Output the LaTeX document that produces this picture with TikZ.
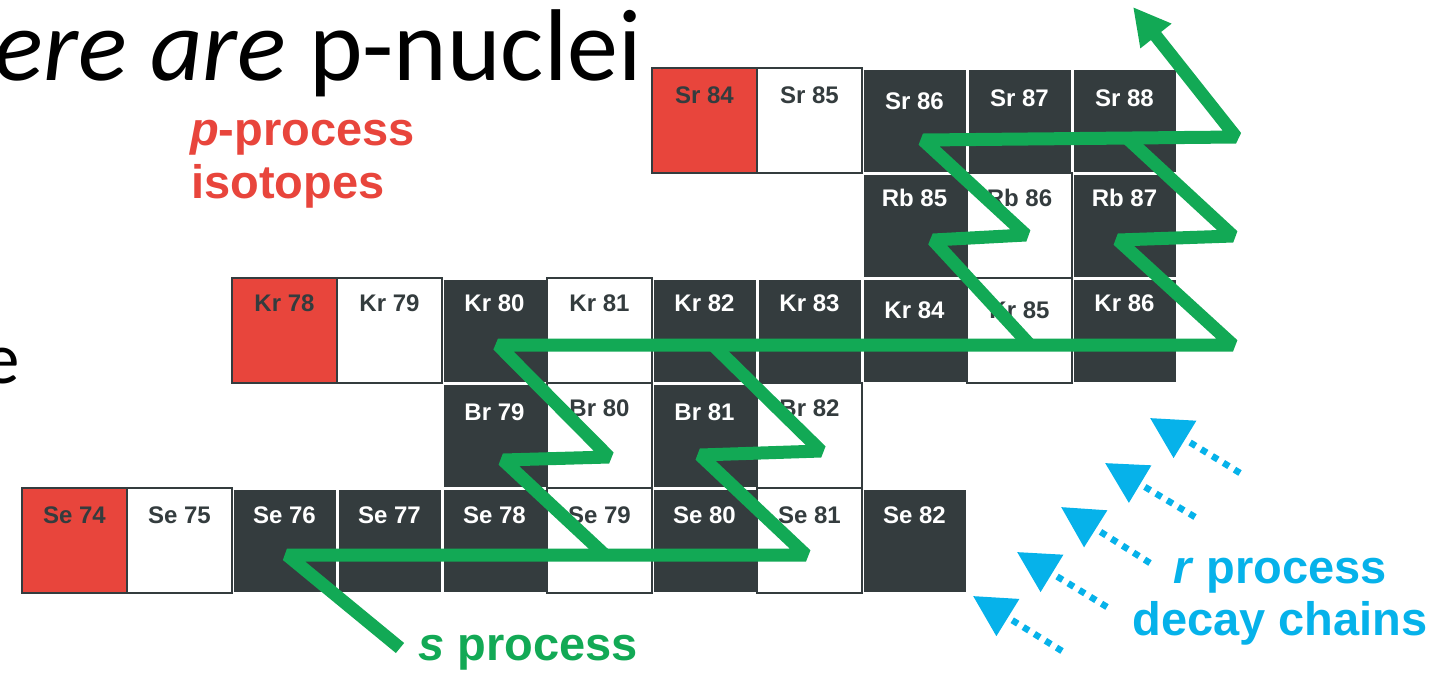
\documentclass[tikz,border=0pt]{standalone}
\usepackage{fontspec}
\setmainfont{Liberation Sans}
\newfontfamily\titlefont{Carlito}
\usetikzlibrary{arrows.meta}
\definecolor{cdark}{HTML}{343C3E}
\definecolor{cred}{HTML}{E8453C}
\definecolor{cgreen}{HTML}{12A955}
\definecolor{cblue}{HTML}{06B2EA}
\tikzset{
  darkcell/.style={fill=cdark, draw=white, line width=3pt},
  whitecell/.style={fill=white, draw=cdark, line width=2.5pt},
  redcell/.style={fill=cred, draw=cdark, line width=2.5pt},
  lbl/.style={font=\bfseries\fontsize{24}{28}\selectfont, inner sep=0pt},
  sline/.style={draw=cgreen, line width=13pt, line join=bevel},
  rarrow/.style={draw=cblue, line width=6.5pt, dash pattern=on 6.5pt off 6.5pt,
     -{Triangle[length=41pt,width=42pt]}},
  bigtext/.style={font=\bfseries\fontsize{47}{54}\selectfont, inner sep=0pt},
  titletext/.style={inner sep=0pt, font=\titlefont\fontsize{102}{102}\selectfont},
}
\begin{document}
\begin{tikzpicture}[x=1pt,y=-1pt]
\useasboundingbox (0,0) rectangle (1434,673);
\clip (0,0) rectangle (1434,673);
% title fragments
\node[titletext, anchor=base east] (title) at (642,80) {{\itshape ere are} p-nuclei};
\node[anchor=base east, inner sep=0pt, font=\titlefont\fontsize{73}{73}\selectfont] (bodye) at (20,383) {e};
% cells: name/col/row/style/text colour/label offset/label
\foreach \n/\c/\r/\s/\t/\dy/\lab in {
  se76/2/0/darkcell/white/27/Se 76, se77/3/0/darkcell/white/27/Se 77, se78/4/0/darkcell/white/27/Se 78,
  se80/6/0/darkcell/white/27/Se 80, se82/8/0/darkcell/white/27/Se 82,
  br79/4/1/darkcell/white/29/Br 79, br81/6/1/darkcell/white/29/Br 81,
  kr80/4/2/darkcell/white/25/Kr 80, kr82/6/2/darkcell/white/25/Kr 82, kr83/7/2/darkcell/white/25/Kr 83,
  kr84/8/2/darkcell/white/32/Kr 84, kr86/10/2/darkcell/white/25/Kr 86,
  rb85/8/3/darkcell/white/25/Rb 85, rb87/10/3/darkcell/white/25/Rb 87,
  sr86/8/4/darkcell/white/33/Sr 86, sr87/9/4/darkcell/white/30/Sr 87, sr88/10/4/darkcell/white/30/Sr 88,
  se74/0/0/redcell/cdark/27/Se 74, se75/1/0/whitecell/cdark/27/Se 75, se79/5/0/whitecell/cdark/27/Se 79,
  se81/7/0/whitecell/cdark/27/Se 81,
  br80/5/1/whitecell/cdark/25/Br 80, br82/7/1/whitecell/cdark/25/Br 82,
  kr78/2/2/redcell/cdark/25/Kr 78, kr79/3/2/whitecell/cdark/25/Kr 79, kr81/5/2/whitecell/cdark/25/Kr 81,
  kr85/9/2/whitecell/cdark/32/Kr 85,
  rb86/9/3/whitecell/cdark/25/Rb 86,
  sr84/6/4/redcell/cdark/27/Sr 84, sr85/7/4/whitecell/cdark/27/Sr 85}
{
  \node[\s, minimum width=105pt, minimum height=105pt, inner sep=0pt, outer sep=0pt, anchor=north west]
     (\n) at ({22+105*\c},{488-105*\r}) {};
  \node[lbl, text=\t] (\n-l) at ([yshift=-\dy pt]\n.north) {\lab};
}
% green s-process path
\coordinate (g0) at (400,648);
\coordinate (g1) at (287,555);
\coordinate (g2) at (806,555);
\coordinate (g3) at (700,455);
\coordinate (g4) at (821,451);
\coordinate (g5) at (713,345);
\coordinate (g6) at (605,555);
\coordinate (g7) at (503,460);
\coordinate (g8) at (609,457);
\coordinate (g9) at (498,345);
\coordinate (g10) at (1233,345);
\coordinate (g11) at (1118,240);
\coordinate (g12) at (1233,236);
\coordinate (g13) at (1128,139);
\coordinate (g14) at (1030,345);
\coordinate (g15) at (933,240);
\coordinate (g16) at (1026,235);
\coordinate (g17) at (923,140);
\coordinate (g18) at (1236,137);
\coordinate (g19) at (1133,7);
\draw[sline] (g0) -- (g1) -- (g2) -- (g3) -- (g4) -- (g5);
\draw[sline] (g6) -- (g7) -- (g8) -- (g9) -- (g10) -- (g11) -- (g12) -- (g13);
\draw[sline, -{Triangle[length=37pt,width=37pt]}] (g14) -- (g15) -- (g16) -- (g17) -- (g18) -- (g19);
% r-process arrows
\coordinate (r1t) at (1240,473); \coordinate (r1h) at (1150,418);
\coordinate (r2t) at (1195,517); \coordinate (r2h) at (1105,463);
\coordinate (r3t) at (1150,563); \coordinate (r3h) at (1061,507);
\coordinate (r4t) at (1107,607); \coordinate (r4h) at (1017,552);
\coordinate (r5t) at (1062,651); \coordinate (r5h) at (973,596);
\foreach \i in {1,...,5} { \draw[rarrow] (r\i t) -- (r\i h); }
% labels
\node[bigtext, text=cred, anchor=base west] (pproc) at (190,145) {\textit{p}-process};
\node[bigtext, text=cred, anchor=base west] (piso) at (191,198) {isotopes};
\node[bigtext, text=cgreen, anchor=base west] (sproc) at (418,660) {\textit{s} process};
\node[bigtext, text=cblue, anchor=base] (rproc) at (1280,583) {\textit{r} process};
\node[bigtext, text=cblue, anchor=base] (rdecay) at (1280,635) {decay chains};
\end{tikzpicture}
\end{document}
